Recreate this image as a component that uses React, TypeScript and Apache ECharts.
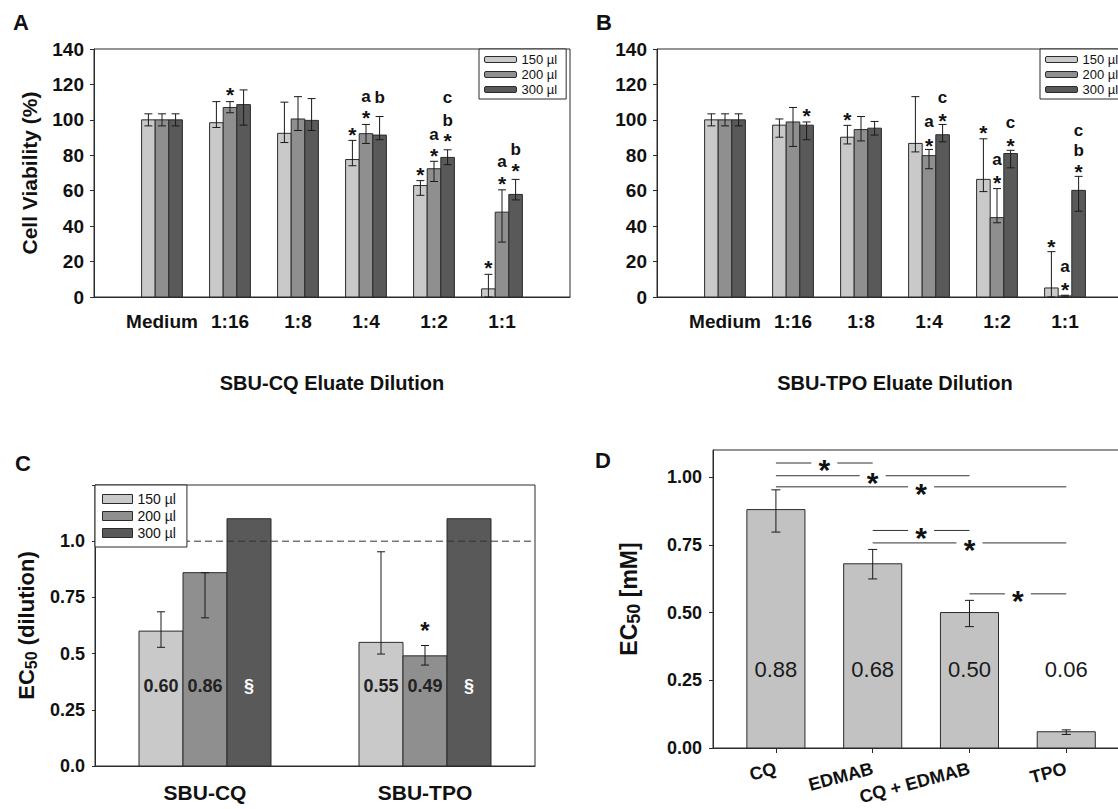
import React, { useEffect, useRef } from 'react';
import * as echarts from 'echarts';

const FONT = '"Liberation Sans", Arial, Helvetica, sans-serif';
const INK = '#111111';
const EDGE = '#2b2b2b';

// ---------- Panels A / B ----------
const dilutions = ['Medium', '1:16', '1:8', '1:4', '1:2', '1:1'];
const volumes = ['150 µl', '200 µl', '300 µl'];
const volumeColors = ['#c9c9c9', '#8f8f8f', '#595959'];

// A: SBU-CQ eluate, cell viability (%)
const cq150 = [100, 98.4, 92.4, 77.6, 62.9, 4.6];
const cq150Hi = [103.4, 110.3, 110, 88.4, 65.7, 12.8];
const cq150Lo = [96.6, 95.7, 87.2, 74.1, 57.4, 0];
const cq200 = [100, 107, 100.5, 92.2, 72.4, 47.9];
const cq200Hi = [103.4, 110.3, 113.1, 97.4, 76.6, 60.5];
const cq200Lo = [96.6, 104, 94, 86.7, 65.2, 31];
const cq300 = [100, 108.6, 99.7, 91.4, 78.8, 57.9];
const cq300Hi = [103.4, 116.9, 112, 101.9, 83.1, 66.4];
const cq300Lo = [96.6, 97, 94, 88.8, 74.7, 54.8];
// [dilution index, volume index, y, text]
const cqMarks = [
  [1, 1, 117, '*'],
  [3, 0, 94.5, '*'], [3, 1, 104, '*'], [3, 1, 112.6, 'a'], [3, 2, 112.6, 'b'],
  [4, 0, 72, '*'], [4, 1, 82.4, '*'], [4, 1, 91, 'a'], [4, 2, 91, '*'], [4, 2, 99.7, 'b'], [4, 2, 111.7, 'c'],
  [5, 0, 19.5, '*'], [5, 1, 66.9, '*'], [5, 1, 75.5, 'a'], [5, 2, 73.8, '*'], [5, 2, 83.3, 'b'],
];

// B: SBU-TPO eluate, cell viability (%)
const tpo150 = [100, 97, 90.2, 86.7, 66.4, 5.1];
const tpo150Hi = [103.4, 100.5, 96.9, 113.1, 89.3, 25.6];
const tpo150Lo = [96.6, 90.2, 86.4, 81.9, 59.5, 0];
const tpo200 = [100, 98.8, 94.5, 79.8, 44.8, 0.6];
const tpo200Hi = [103.4, 107, 101.9, 83.3, 61.2, 1];
const tpo200Lo = [96.6, 85, 88.1, 72.4, 41.9, 0];
const tpo300 = [100, 97, 95.3, 91.6, 81, 60.2];
const tpo300Hi = [103.4, 98.8, 99.1, 97.4, 82.8, 68.1];
const tpo300Lo = [96.6, 88.8, 91.4, 87.6, 72.9, 48.4];
const tpoMarks = [
  [1, 2, 105.1, '*'],
  [2, 0, 102.6, '*'],
  [3, 1, 88, '*'], [3, 1, 98.3, 'a'], [3, 2, 102, '*'], [3, 2, 112, 'c'],
  [4, 0, 95.7, '*'], [4, 1, 67.4, '*'], [4, 1, 76.8, 'a'], [4, 2, 88, '*'], [4, 2, 97.4, 'c'],
  [5, 0, 31.1, '*'], [5, 1, 6.8, '*'], [5, 1, 16.2, 'a'], [5, 2, 73.4, '*'], [5, 2, 82.8, 'b'], [5, 2, 93.1, 'c'],
];

// ---------- Panel C ----------
const eluates = ['SBU-CQ', 'SBU-TPO'];
const c150 = [0.6, 0.55];
const c150Hi = [0.686, 0.953];
const c150Lo = [0.528, 0.498];
const c200 = [0.86, 0.49];
const c200Hi = [0.86, 0.536];
const c200Lo = [0.659, 0.449];
const c300 = [1.1, 1.1];
const c150Text = ['0.60', '0.55'];
const c200Text = ['0.86', '0.49'];
const c300Text = ['§', '§'];
const cMarks = [[1, 1, 0.626, '*']];
const cTickText = ['0.0', '0.25', '0.5', '0.75', '1.0'];
const cReference = 1.0;

// ---------- Panel D ----------
const initiators = ['CQ', 'EDMAB', 'CQ + EDMAB', 'TPO'];
const dEc50 = [0.88, 0.68, 0.5, 0.06];
const dHi = [0.953, 0.733, 0.545, 0.067];
const dLo = [0.797, 0.624, 0.448, 0.05];
const dText = ['0.88', '0.68', '0.50', '0.06'];
// [from (1-based), to (1-based), y]
const dPairs = [
  [1, 2, 1.052], [1, 3, 1.005], [1, 4, 0.964],
  [2, 3, 0.803], [2, 4, 0.757],
  [3, 4, 0.569],
];

const STAR_OFF: Record<string, number> = { '*': 0.22, a: -0.09, c: -0.09, b: 0 };

function barSeries(name, axis, xs, vals, k, n, frac, color) {
  return {
    type: 'custom', name, xAxisIndex: axis, yAxisIndex: axis, silent: true, z: 2,
    itemStyle: { color },
    data: vals.map((v, i) => [xs[i], v, k]),
    renderItem: (params, api) => {
      const x = api.value(0), v = api.value(1), kk = api.value(2);
      const w = api.size([1, 0])[0] * frac;
      const p = api.coord([x, v]);
      const b = api.coord([x, 0]);
      const cx = p[0] + (kk - (n - 1) / 2) * w;
      return {
        type: 'rect',
        shape: { x: cx - w / 2, y: p[1], width: w, height: b[1] - p[1] },
        style: { fill: color, stroke: EDGE, lineWidth: 1 },
      };
    },
  };
}

function errSeries(axis, xs, his, los, k, n, frac, cap) {
  return {
    type: 'custom', xAxisIndex: axis, yAxisIndex: axis, silent: true, z: 4,
    data: his.map((h, i) => [xs[i], h, los[i], k]),
    renderItem: (params, api) => {
      const x = api.value(0), hi = api.value(1), lo = api.value(2), kk = api.value(3);
      const w = api.size([1, 0])[0] * frac;
      const ph = api.coord([x, hi]);
      const pl = api.coord([x, lo]);
      const cx = ph[0] + (kk - (n - 1) / 2) * w;
      const st = { stroke: '#1a1a1a', lineWidth: 1 };
      return {
        type: 'group',
        children: [
          { type: 'line', shape: { x1: cx, y1: ph[1], x2: cx, y2: pl[1] }, style: st },
          { type: 'line', shape: { x1: cx - cap, y1: ph[1], x2: cx + cap, y2: ph[1] }, style: st },
          { type: 'line', shape: { x1: cx - cap, y1: pl[1], x2: cx + cap, y2: pl[1] }, style: st },
        ],
      };
    },
  };
}

function markSeries(axis, marks, shift, n, frac, letterSize, starSize) {
  return {
    type: 'custom', xAxisIndex: axis, yAxisIndex: axis, silent: true, z: 6,
    data: marks.map((m) => [m[0] + shift, m[2]]),
    renderItem: (params, api) => {
      const m = marks[params.dataIndex];
      const size = m[3] === '*' ? starSize : letterSize;
      const w = api.size([1, 0])[0] * frac;
      const p = api.coord([api.value(0), api.value(1)]);
      const cx = p[0] + (m[1] - (n - 1) / 2) * w;
      return {
        type: 'text', x: cx, y: p[1] + (STAR_OFF[m[3]] ?? 0) * size,
        style: { text: m[3], fontFamily: FONT, fontWeight: 'bold', fontSize: size, fill: INK, align: 'center', verticalAlign: 'middle' },
      };
    },
  };
}

function textSeries(axis, xs, texts, yv, k, n, frac, size, weight, color) {
  return {
    type: 'custom', xAxisIndex: axis, yAxisIndex: axis, silent: true, z: 5,
    data: texts.map((t, i) => [xs[i], yv, k]),
    renderItem: (params, api) => {
      const w = api.size([1, 0])[0] * frac;
      const p = api.coord([api.value(0), api.value(1)]);
      const cx = p[0] + (api.value(2) - (n - 1) / 2) * w;
      return {
        type: 'text', x: cx, y: p[1],
        style: { text: texts[params.dataIndex], fontFamily: FONT, fontWeight: weight, fontSize: size, fill: color, align: 'center', verticalAlign: 'middle' },
      };
    },
  };
}

const axisLine = { show: true, lineStyle: { color: EDGE, width: 1 } };
const tickStyle = { color: EDGE, width: 1 };

function xDilution(gi, title) {
  return {
    gridIndex: gi, type: 'value', min: 0, max: 7, interval: 1,
    axisLine, axisTick: { show: false }, splitLine: { show: false },
    axisLabel: { formatter: (v) => dilutions[v - 1] ?? '', color: INK, fontFamily: FONT, fontWeight: 'bold', fontSize: 19, margin: 15 },
    name: title, nameLocation: 'middle', nameGap: 76,
    nameTextStyle: { color: INK, fontFamily: FONT, fontWeight: 'bold', fontSize: 20 },
  };
}
function yViability(gi, title) {
  return {
    gridIndex: gi, type: 'value', min: 0, max: 140, interval: 20,
    axisLine, axisTick: { show: true, length: 4, lineStyle: tickStyle }, splitLine: { show: false },
    axisLabel: { color: INK, fontFamily: FONT, fontWeight: 'bold', fontSize: 19, margin: 10 },
    name: title, nameLocation: 'middle', nameGap: 54, nameRotate: 90,
    nameTextStyle: { color: INK, fontFamily: FONT, fontWeight: 'bold', fontSize: 21 },
  };
}
function legendFor(left, top, icon, iw, ih, gap, pad, fs) {
  return {
    left, top, orient: 'vertical', selectedMode: false,
    data: volumes.map((nm, k) => ({ name: nm, icon, itemStyle: { color: volumeColors[k], borderColor: EDGE, borderWidth: 1 } })),
    itemWidth: iw, itemHeight: ih, itemGap: gap, padding: pad,
    borderColor: EDGE, borderWidth: 1, borderRadius: 0, backgroundColor: '#ffffff',
    textStyle: { fontFamily: FONT, fontSize: fs, color: INK },
    z: 10,
  };
}

function buildOption() {
  const xsAB = dilutions.map((_, i) => i + 1);
  const xsC = eluates.map((_, i) => i);
  const xsD = initiators.map((_, i) => i + 1);
  const series: any[] = [];
  const cqM = [cq150, cq200, cq300], cqH = [cq150Hi, cq200Hi, cq300Hi], cqL = [cq150Lo, cq200Lo, cq300Lo];
  const tpM = [tpo150, tpo200, tpo300], tpH = [tpo150Hi, tpo200Hi, tpo300Hi], tpL = [tpo150Lo, tpo200Lo, tpo300Lo];
  for (let k = 0; k < 3; k++) {
    series.push(barSeries(volumes[k], 0, xsAB, cqM[k], k, 3, 0.2, volumeColors[k]));
    series.push(errSeries(0, xsAB, cqH[k], cqL[k], k, 3, 0.2, 4));
    series.push(barSeries(volumes[k], 1, xsAB, tpM[k], k, 3, 0.2, volumeColors[k]));
    series.push(errSeries(1, xsAB, tpH[k], tpL[k], k, 3, 0.2, 4));
  }
  series.push(markSeries(0, cqMarks, 1, 3, 0.2, 17, 21));
  series.push(markSeries(1, tpoMarks, 1, 3, 0.2, 17, 21));

  // C
  const cM = [c150, c200, c300];
  const cT = [c150Text, c200Text, c300Text];
  for (let k = 0; k < 3; k++) {
    series.push(barSeries(volumes[k], 2, xsC, cM[k], k, 3, 0.2, volumeColors[k]));
    series.push(textSeries(2, xsC, cT[k], 0.355, k, 3, 0.2, 18, 'bold', k === 2 ? '#ffffff' : '#222222'));
  }
  series.push(errSeries(2, xsC, c150Hi, c150Lo, 0, 3, 0.2, 4));
  series.push(errSeries(2, xsC, c200Hi, c200Lo, 1, 3, 0.2, 4));
  series.push(markSeries(2, cMarks, 0, 3, 0.2, 22, 24));
  series.push({
    type: 'custom', xAxisIndex: 2, yAxisIndex: 2, silent: true, z: 3,
    data: [[0, cReference]],
    renderItem: (params, api) => {
      const cs = params.coordSys;
      const y = api.coord([0, api.value(1)])[1];
      return { type: 'line', shape: { x1: cs.x, y1: y, x2: cs.x + cs.width, y2: y }, style: { stroke: '#333', lineWidth: 1, lineDash: [7, 4] } };
    },
  });

  // D
  series.push(barSeries('EC50', 3, xsD, dEc50, 0, 1, 0.6, '#c2c2c2'));
  series.push(errSeries(3, xsD, dHi, dLo, 0, 1, 0.6, 4.5));
  series.push(textSeries(3, xsD, dText, 0.29, 0, 1, 0.6, 22, 'normal', '#1a1a1a'));
  series.push({
    type: 'custom', xAxisIndex: 3, yAxisIndex: 3, silent: true, z: 6,
    data: dPairs.map((p) => [p[0], p[1], p[2]]),
    renderItem: (params, api) => {
      const a = api.coord([api.value(0), api.value(2)]);
      const b = api.coord([api.value(1), api.value(2)]);
      const mid = (a[0] + b[0]) / 2;
      const gap = 13;
      const st = { stroke: '#333', lineWidth: 1 };
      return {
        type: 'group',
        children: [
          { type: 'line', shape: { x1: a[0], y1: a[1], x2: mid - gap, y2: a[1] }, style: st },
          { type: 'line', shape: { x1: mid + gap, y1: a[1], x2: b[0], y2: a[1] }, style: st },
          { type: 'text', x: mid, y: a[1] + 0.22 * 30, style: { text: '*', fontFamily: FONT, fontWeight: 'bold', fontSize: 30, fill: INK, align: 'center', verticalAlign: 'middle' } },
        ],
      };
    },
  });

  const gridBox = { show: true, borderColor: EDGE, borderWidth: 1, backgroundColor: 'transparent', containLabel: false, outerBoundsMode: 'none' };

  return {
    animation: false,
    backgroundColor: '#ffffff',
    textStyle: { fontFamily: FONT },
    grid: [
      { left: 94, top: 49, width: 476, height: 248, ...gridBox },
      { left: 657, top: 49, width: 476, height: 248, ...gridBox },
      { left: 95, top: 485, width: 440, height: 281, ...gridBox },
      { left: 713, top: 450, width: 421, height: 298, ...gridBox },
    ],
    xAxis: [
      xDilution(0, 'SBU-CQ Eluate Dilution'),
      xDilution(1, 'SBU-TPO Eluate Dilution'),
      {
        gridIndex: 2, type: 'category', data: eluates, boundaryGap: true,
        axisLine, axisTick: { show: false }, splitLine: { show: false },
        axisLabel: { color: INK, fontFamily: FONT, fontWeight: 'bold', fontSize: 21, margin: 16 },
      },
      {
        gridIndex: 3, type: 'value', min: 0.35, max: 4.7,
        axisLine, splitLine: { show: false },
        axisTick: { show: true, length: 5, lineStyle: tickStyle, customValues: [1, 2, 3, 4] },
        axisLabel: {
          customValues: [1, 2, 3, 4], formatter: (v) => initiators[Math.round(v) - 1] ?? '',
          rotate: 15, color: INK, fontFamily: FONT, fontWeight: 'bold', fontSize: 18, margin: 20,
        },
      },
    ],
    yAxis: [
      yViability(0, 'Cell Viability (%)'),
      yViability(1, ''),
      {
        gridIndex: 2, type: 'value', min: 0, max: 1.25, interval: 0.25,
        axisLine, axisTick: { show: true, length: 3, lineStyle: tickStyle }, splitLine: { show: false },
        axisLabel: { formatter: (v) => cTickText[Math.round(v / 0.25)] ?? '', color: INK, fontFamily: FONT, fontWeight: 'bold', fontSize: 18, margin: 10 },
        name: '{a|EC}{b|50}{a| (dilution)}', nameLocation: 'middle', nameGap: 56, nameRotate: 90,
        nameTextStyle: {
          rich: {
            a: { fontFamily: FONT, fontWeight: 'bold', fontSize: 22, color: INK, lineHeight: 26 },
            b: { fontFamily: FONT, fontWeight: 'bold', fontSize: 16, color: INK, lineHeight: 16, verticalAlign: 'bottom' },
          },
        },
      },
      {
        gridIndex: 3, type: 'value', min: 0, max: 1.1,
        axisLine,
        axisTick: { show: true, length: 4, lineStyle: tickStyle, customValues: [0, 0.25, 0.5, 0.75, 1] },
        splitLine: { show: false },
        axisLabel: { customValues: [0, 0.25, 0.5, 0.75, 1], formatter: (v) => Number(v).toFixed(2), color: INK, fontFamily: FONT, fontWeight: 'bold', fontSize: 18, margin: 11 },
        name: '{a|EC}{b|50}{a| [mM]}', nameLocation: 'middle', nameGap: 70, nameRotate: 90,
        nameTextStyle: {
          rich: {
            a: { fontFamily: FONT, fontWeight: 'bold', fontSize: 23, color: INK, lineHeight: 28 },
            b: { fontFamily: FONT, fontWeight: 'bold', fontSize: 18, color: INK, lineHeight: 18, verticalAlign: 'bottom' },
          },
        },
      },
    ],
    legend: [
      legendFor(479, 49, 'roundRect', 32, 6, 2, [4, 9, 3, 5], 13),
      legendFor(1040, 49, 'roundRect', 32, 6, 2, [4, 9, 3, 5], 13),
      legendFor(95, 485, 'rect', 30, 9, 3, [7, 11, 7, 7], 14),
    ],
    graphic: [
      { type: 'text', left: 13, top: 11, style: { text: 'A', fontFamily: FONT, fontWeight: 'bold', fontSize: 22, fill: INK } },
      { type: 'text', left: 596, top: 11, style: { text: 'B', fontFamily: FONT, fontWeight: 'bold', fontSize: 22, fill: INK } },
      { type: 'text', left: 15, top: 452, style: { text: 'C', fontFamily: FONT, fontWeight: 'bold', fontSize: 22, fill: INK } },
      { type: 'text', left: 595, top: 449, style: { text: 'D', fontFamily: FONT, fontWeight: 'bold', fontSize: 22, fill: INK } },
    ],
    series,
  };
}

export default function App() {
  const ref = useRef<HTMLDivElement>(null);
  useEffect(() => {
    if (!ref.current) return;
    const chart = echarts.init(ref.current, null, { renderer: 'svg' });
    chart.setOption(buildOption() as any);
    return () => chart.dispose();
  }, []);
  return (
    <div
      ref={ref}
      style={{ position: 'fixed', left: 0, top: 0, width: 1118, height: 809, background: '#ffffff' }}
    />
  );
}
